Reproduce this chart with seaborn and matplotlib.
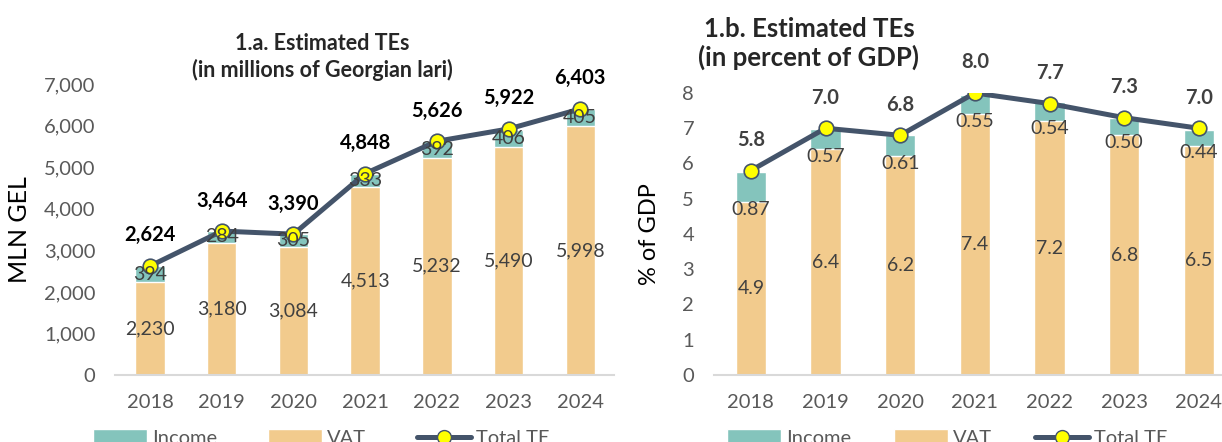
import numpy as np
import pandas as pd
import matplotlib
matplotlib.use("Agg")
import matplotlib.pyplot as plt
import seaborn as sns
from matplotlib.patches import Patch
from matplotlib.lines import Line2D
from matplotlib.ticker import StrMethodFormatter

# data
years = ["2018", "2019", "2020", "2021", "2022", "2023", "2024"]
vat_mln = [2230, 3180, 3084, 4513, 5232, 5490, 5998]
income_mln = [394, 284, 305, 333, 392, 406, 405]
total_mln = [2624, 3464, 3390, 4848, 5626, 5922, 6403]
vat_gdp = [4.9, 6.4, 6.2, 7.4, 7.2, 6.8, 6.5]
income_gdp = [0.87, 0.57, 0.61, 0.55, 0.54, 0.50, 0.44]
total_gdp = [5.8, 7.0, 6.8, 8.0, 7.7, 7.3, 7.0]

# colours
c_income = "#84C4BC"
c_vat = "#F2CB8D"
c_line = "#44546A"
c_marker = "#FFFF00"
c_tick = "#595959"
c_lab = "#404040"

sns.set_style("white")
plt.rcParams["font.family"] = ["Lato", "DejaVu Sans"]

fig = plt.figure(figsize=(12.22, 4.42), dpi=100)
ax1 = fig.add_axes([0.0941, 0.1516, 0.4083, 0.658])
ax2 = fig.add_axes([0.5839, 0.1516, 0.4161, 0.638])


def draw_panel(ax, vat, income, total, ymax, seg_fmt, tot_fmt, tot_color, income_on_edge):
    df = pd.DataFrame({"year": years, "vat": vat, "income": income, "total": total})
    df["stack"] = df["vat"] + df["income"]
    x = np.arange(len(years))
    # stacked bars: full height in teal, VAT drawn over it
    sns.barplot(data=df, x="year", y="stack", color=c_income, saturation=1, width=0.41, ax=ax)
    sns.barplot(data=df, x="year", y="vat", color=c_vat, saturation=1, width=0.41, ax=ax)
    sns.lineplot(x=x, y=df["total"], color=c_line, lw=3.6, marker="o", markersize=10.5,
                 markerfacecolor=c_marker, markeredgecolor=c_line, markeredgewidth=1.2, ax=ax)
    for i in range(len(years)):
        ax.text(x[i], df["vat"][i] / 2, seg_fmt(df["vat"][i]), ha="center", va="center",
                fontsize=14, color=c_lab)
        if income_on_edge:
            ax.annotate(seg_fmt(df["income"][i]), (x[i], df["vat"][i]), xytext=(0, -5),
                        textcoords="offset points", ha="center", va="center", fontsize=14, color=c_lab)
        else:
            ax.text(x[i], df["vat"][i] + df["income"][i] / 2, seg_fmt(df["income"][i]),
                    ha="center", va="center", fontsize=14, color=c_lab)
        ax.annotate(tot_fmt(df["total"][i]), (x[i], df["total"][i]), xytext=(0, 22),
                    textcoords="offset points", ha="center", va="center", fontsize=14.5,
                    fontweight="bold", color=tot_color, annotation_clip=False)
    ax.set_ylim(0, ymax)
    for s in ["top", "right", "left"]:
        ax.spines[s].set_visible(False)
    ax.spines["bottom"].set_color("#D9D9D9")
    ax.spines["bottom"].set_linewidth(1.5)
    ax.tick_params(axis="both", length=0, labelsize=14.5, labelcolor=c_tick)
    ax.tick_params(axis="x", pad=14)
    ax.tick_params(axis="y", pad=14)
    ax.set_xlabel("")


draw_panel(ax1, vat_mln, income_mln, total_mln, 7000,
           lambda v: f"{v:,.0f}", lambda v: f"{v:,.0f}", "black", False)
ax1.set_xlim(-0.49, 6.47)
ax1.set_yticks(np.arange(0, 7001, 1000))
ax1.yaxis.set_major_formatter(StrMethodFormatter("{x:,.0f}"))
ax1.set_ylabel("MLN GEL", fontsize=18, color="black")
ax1.yaxis.set_label_coords(-0.168, 0.5)

draw_panel(ax2, vat_gdp, income_gdp, total_gdp, 8,
           lambda v: f"{v:.2f}" if v < 1 else f"{v:.1f}", lambda v: f"{v:.1f}", c_lab, True)
ax2.set_xlim(-0.5, 6.31)
ax2.set_yticks(np.arange(0, 9, 1))
ax2.set_ylabel("% of GDP", fontsize=17, color="black")
ax2.yaxis.set_label_coords(-0.106, 0.5)

fig.text(0.2635, 0.871, "1.a. Estimated TEs\n(in millions of Georgian lari)", ha="center", va="center",
         fontsize=15.5, fontweight="bold", linespacing=1.3)
fig.text(0.662, 0.9016, "1.b. Estimated TEs\n(in percent of GDP)", ha="center", va="center",
         fontsize=18.5, fontweight="bold", linespacing=1.2)

handles = [Patch(facecolor=c_income), Patch(facecolor=c_vat),
           Line2D([], [], color=c_line, lw=3.6, marker="o", markersize=10,
                  markerfacecolor=c_marker, markeredgecolor=c_line)]
labels = ["Income", "VAT", "Total TE"]
for ax, x0, cs in [(ax1, 93 / 1222, 2.5), (ax2, 727 / 1222, 2.1)]:
    leg = ax.legend(handles, labels, ncol=3, loc="center left", bbox_to_anchor=(x0, 1 - 438 / 442),
                    bbox_transform=fig.transFigure, frameon=False, fontsize=14.5, handlelength=2.7,
                    handleheight=0.9, handletextpad=0.25, columnspacing=cs, borderpad=0, borderaxespad=0)
    for t in leg.get_texts():
        t.set_color(c_tick)

fig.savefig("out.png", dpi=100)
